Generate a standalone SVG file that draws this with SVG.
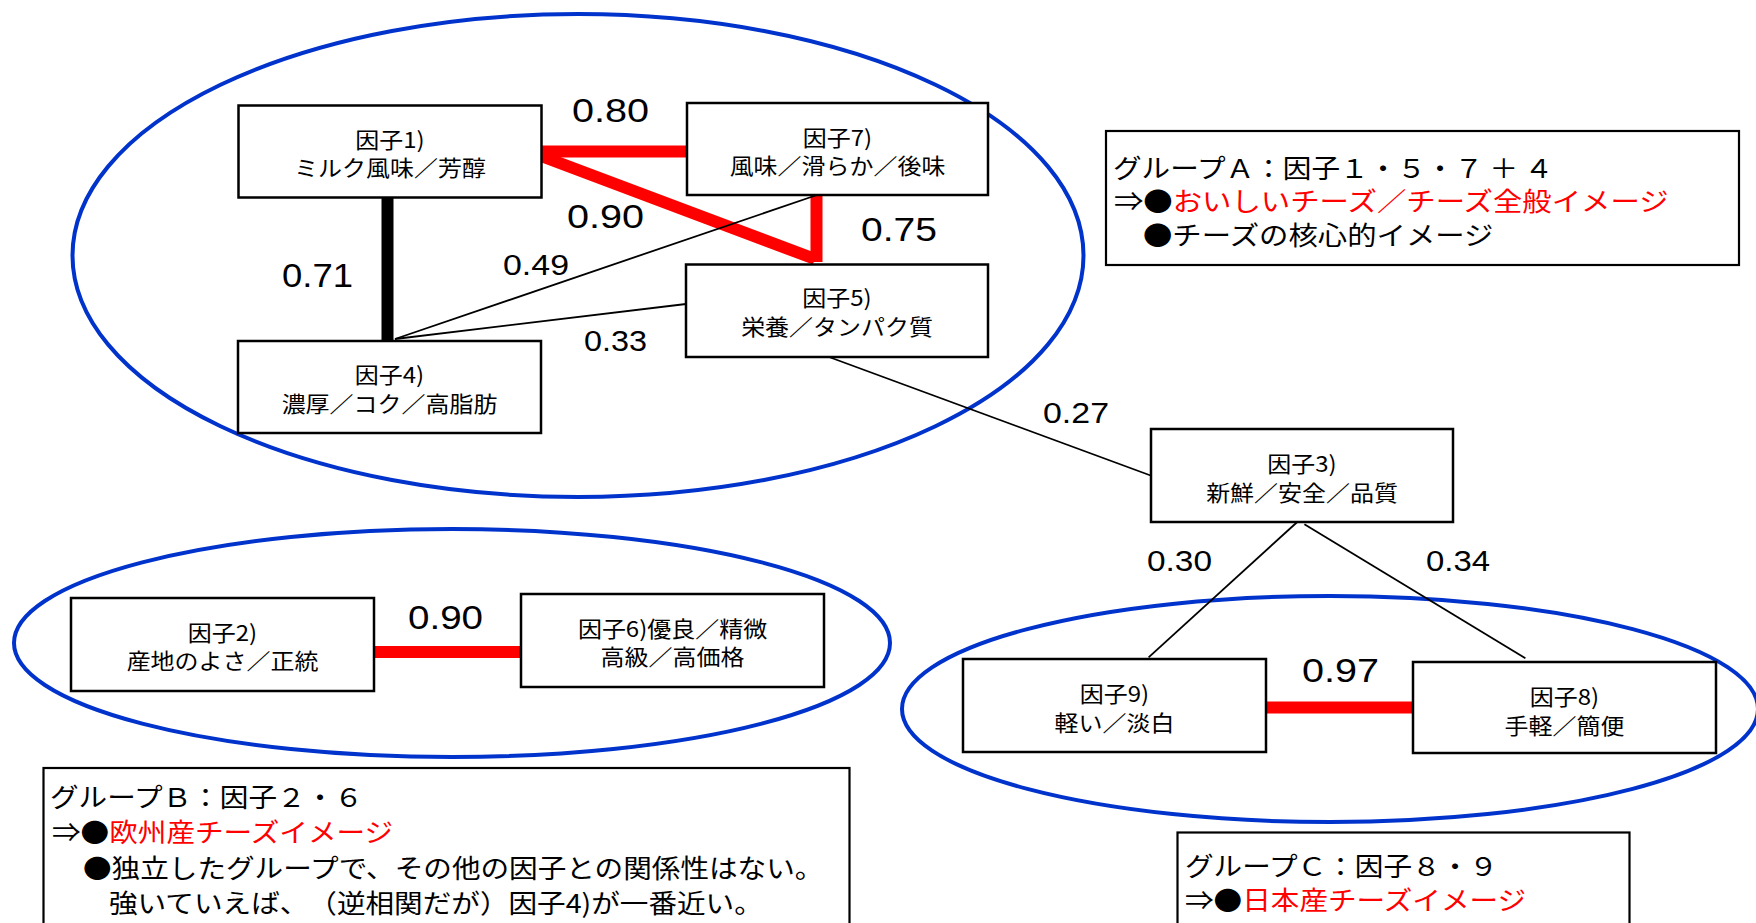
<svg xmlns="http://www.w3.org/2000/svg" width="1756" height="923" viewBox="0 0 1756 923">
<style>
.ell{fill:none;stroke:#0033CC;stroke-width:4}
.box{fill:#fff;stroke:#000;stroke-width:2.5}
.gbox{fill:#fff;stroke:#000;stroke-width:2.2}
.thin{stroke:#000;stroke-width:1.8;fill:none}
.thickr{stroke:#FF0000;stroke-width:12;fill:none}
.thickk{stroke:#000;stroke-width:12;fill:none}
.bt{font-family:"Noto Sans CJK JP","Noto Sans",sans-serif;font-size:22px;text-anchor:middle;fill:#000;text-spacing-trim:space-all}
.gt{font-family:"Noto Sans CJK JP","Noto Sans",sans-serif;font-size:26px;fill:#000;text-spacing-trim:space-all}
.red{fill:#FF0000}
.num{font-family:"Liberation Sans",Arial,sans-serif;fill:#000}
.big{font-size:33px}
.small{font-size:29px}
</style>
<rect width="1756" height="923" fill="#fff"/>
<g id="groups">
<ellipse id="groupA-ellipse" class="ell" cx="578" cy="255.5" rx="505.5" ry="241.5"/>
<ellipse id="groupB-ellipse" class="ell" cx="452" cy="643" rx="438" ry="114"/>
<ellipse id="groupC-ellipse" class="ell" cx="1330" cy="709" rx="428" ry="113"/>
</g>
<g id="connectors">
<line class="thickr" x1="541" y1="151.5" x2="687" y2="151.5"/>
<line class="thickr" x1="541" y1="156" x2="815" y2="259"/>
<line class="thickr" x1="816.5" y1="193" x2="816.5" y2="262"/>
<line class="thickk" x1="387.5" y1="197" x2="387.5" y2="341"/>
<line class="thin" x1="395" y1="339" x2="817" y2="195"/>
<line class="thin" x1="395" y1="339" x2="686" y2="304"/>
<line class="thin" x1="829" y1="357" x2="1152" y2="476"/>
<line class="thin" x1="1300" y1="519.5" x2="1148.6" y2="657.3"/>
<line class="thin" x1="1304.4" y1="524.3" x2="1525.4" y2="658.3"/>
<line class="thickr" x1="374" y1="652" x2="521" y2="652"/>
<line class="thickr" x1="1266" y1="707.5" x2="1413" y2="707.5"/>
<text class="num big" x="572" y="122" textLength="77" lengthAdjust="spacingAndGlyphs">0.80</text>
<text class="num big" x="567" y="228" textLength="77" lengthAdjust="spacingAndGlyphs">0.90</text>
<text class="num big" x="861" y="241" textLength="76" lengthAdjust="spacingAndGlyphs">0.75</text>
<text class="num big" x="282" y="287" textLength="71" lengthAdjust="spacingAndGlyphs">0.71</text>
<text class="num small" x="503" y="275" textLength="66" lengthAdjust="spacingAndGlyphs">0.49</text>
<text class="num small" x="584" y="351" textLength="63" lengthAdjust="spacingAndGlyphs">0.33</text>
<text class="num small" x="1043" y="423" textLength="66" lengthAdjust="spacingAndGlyphs">0.27</text>
<text class="num small" x="1147" y="571" textLength="65" lengthAdjust="spacingAndGlyphs">0.30</text>
<text class="num small" x="1426" y="571" textLength="64" lengthAdjust="spacingAndGlyphs">0.34</text>
<text class="num big" x="408" y="629" textLength="75" lengthAdjust="spacingAndGlyphs">0.90</text>
<text class="num big" x="1302" y="682" textLength="77" lengthAdjust="spacingAndGlyphs">0.97</text>
</g>
<g id="factor1">
<rect class="box" x="238.5" y="105.5" width="303" height="92"/>
<text class="bt" transform="translate(390 147.5) scale(1.09 1)">因子1)</text>
<text class="bt" transform="translate(390 175.5) scale(1.09 1)">ミルク風味／芳醇</text>
</g>
<g id="factor7">
<rect class="box" x="687" y="103" width="301" height="92"/>
<text class="bt" transform="translate(837.5 145.5) scale(1.09 1)">因子7)</text>
<text class="bt" transform="translate(837.5 174) scale(1.09 1)">風味／滑らか／後味</text>
</g>
<g id="factor5">
<rect class="box" x="686" y="264.5" width="302" height="92.5"/>
<text class="bt" transform="translate(837 306) scale(1.09 1)">因子5)</text>
<text class="bt" transform="translate(837 335) scale(1.09 1)">栄養／タンパク質</text>
</g>
<g id="factor4">
<rect class="box" x="238" y="341" width="303" height="92"/>
<text class="bt" transform="translate(389.5 383) scale(1.09 1)">因子4)</text>
<text class="bt" transform="translate(389.5 411.5) scale(1.09 1)">濃厚／コク／高脂肪</text>
</g>
<g id="factor3">
<rect class="box" x="1151" y="429" width="302" height="93"/>
<text class="bt" transform="translate(1302 472) scale(1.09 1)">因子3)</text>
<text class="bt" transform="translate(1302 500.5) scale(1.09 1)">新鮮／安全／品質</text>
</g>
<g id="factor9">
<rect class="box" x="963" y="659" width="303" height="93"/>
<text class="bt" transform="translate(1114.5 702) scale(1.09 1)">因子9)</text>
<text class="bt" transform="translate(1114.5 730.5) scale(1.09 1)">軽い／淡白</text>
</g>
<g id="factor8">
<rect class="box" x="1413" y="662" width="303" height="91"/>
<text class="bt" transform="translate(1564.5 705) scale(1.09 1)">因子8)</text>
<text class="bt" transform="translate(1564.5 733.5) scale(1.09 1)">手軽／簡便</text>
</g>
<g id="factor2">
<rect class="box" x="71" y="598" width="303" height="93"/>
<text class="bt" transform="translate(222.5 640.5) scale(1.09 1)">因子2)</text>
<text class="bt" transform="translate(222.5 668.5) scale(1.09 1)">産地のよさ／正統</text>
</g>
<g id="factor6">
<rect class="box" x="521" y="594" width="303" height="93"/>
<text class="bt" transform="translate(672.5 637) scale(1.09 1)">因子6)優良／精微</text>
<text class="bt" transform="translate(672.5 665) scale(1.09 1)">高級／高価格</text>
</g>
<g id="groupA-note">
<rect class="gbox" x="1106" y="131" width="633" height="134"/>
<text class="gt" transform="translate(1113 178) scale(1.1 1)">グループＡ：因子１・５・７ ＋ ４</text>
<text class="gt" transform="translate(1114 211) scale(1.13 1)">⇒●<tspan class="red">おいしいチーズ／チーズ全般イメージ</tspan></text>
<text class="gt" transform="translate(1143 245) scale(1.13 1)">●チーズの核心的イメージ</text>
</g>
<g id="groupB-note">
<rect class="gbox" x="43.5" y="768" width="806" height="200"/>
<text class="gt" transform="translate(50 807) scale(1.1 1)">グループＢ：因子２・６</text>
<text class="gt" transform="translate(52 842) scale(1.1 1)">⇒●<tspan class="red">欧州産チーズイメージ</tspan></text>
<text class="gt" transform="translate(83 878) scale(1.1 1)">●独立したグループで、その他の因子との関係性はない。</text>
<text class="gt" transform="translate(109 913) scale(1.1 1)">強いていえば、（逆相関だが）因子4)が一番近い。</text>
</g>
<g id="groupC-note">
<rect class="gbox" x="1177.5" y="832.5" width="452" height="150"/>
<text class="gt" transform="translate(1185 876) scale(1.1 1)">グループＣ：因子８・９</text>
<text class="gt" transform="translate(1185 910) scale(1.1 1)">⇒●<tspan class="red">日本産チーズイメージ</tspan></text>
</g>
</svg>
